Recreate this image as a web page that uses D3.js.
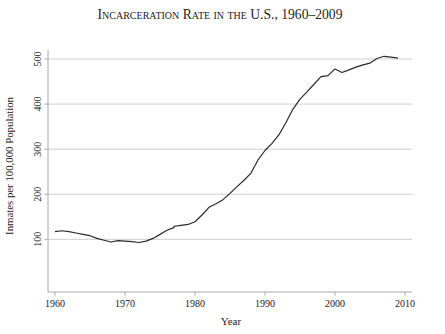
<!DOCTYPE html>
<html><head><meta charset="utf-8">
<script src="https://cdn.jsdelivr.net/npm/d3@7/dist/d3.min.js"></script>
<style>body{margin:0;background:#fff}svg{display:block}text{font-family:"Liberation Serif","DejaVu Serif",serif;fill:#222}</style>
</head><body>
<script>
const years = [1960,1961,1962,1963,1964,1965,1966,1967,1968,1969,1970,1971,1972,1973,1974,1975,1976,1977,1977,1978,1979,1980,1981,1982,1983,1984,1985,1986,1987,1988,1989,1990,1991,1992,1993,1994,1995,1996,1997,1998,1999,2000,2001,2002,2003,2004,2005,2006,2007,2008,2009];
const rates = [117,119,117,114,111,108,102,98,94,97,96,95,93,96,102,111,120,126,129,131,133,139,154,171,179,188,202,217,231,247,276,297,313,332,359,389,411,427,444,461,463,478,470,476,482,487,491,501,506,504,502];
const xTicks = [1960,1970,1980,1990,2000,2010];
const yTicks = [100,200,300,400,500];
const title = "Incarceration Rate in the U.S., 1960–2009";
const xLabel = "Year";
const yLabel = "Inmates per 100,000 Population";

const W=445,H=334;
const svg=d3.select("body").append("svg").attr("width",W).attr("height",H);
const x=d3.scaleLinear().domain([1960,2010]).range([55,405]);
const y=d3.scaleLinear().domain([0,500]).range([284.4,59]);
const gridColor="#cfcfcf", axisColor="#a8a8a8";

svg.append("g").selectAll("line").data(yTicks).join("line")
  .attr("x1",48).attr("x2",412).attr("y1",d=>y(d)).attr("y2",d=>y(d))
  .attr("stroke",gridColor).attr("stroke-width",1);

svg.append("line").attr("x1",48).attr("x2",48).attr("y1",50).attr("y2",292).attr("stroke",axisColor);
svg.append("g").selectAll("line").data(yTicks).join("line")
  .attr("x1",44.5).attr("x2",48).attr("y1",d=>y(d)).attr("y2",d=>y(d)).attr("stroke",axisColor);
svg.append("g").selectAll("text").data(yTicks).join("text")
  .attr("transform",d=>`translate(41,${y(d)}) rotate(-90)`)
  .attr("text-anchor","middle").attr("font-size",10).text(d=>d);

svg.append("line").attr("x1",48).attr("x2",412).attr("y1",292).attr("y2",292).attr("stroke",axisColor);
svg.append("g").selectAll("line").data(xTicks).join("line")
  .attr("x1",d=>x(d)).attr("x2",d=>x(d)).attr("y1",292).attr("y2",295.5).attr("stroke",axisColor);
svg.append("g").selectAll("text").data(xTicks).join("text")
  .attr("x",d=>x(d)).attr("y",307).attr("text-anchor","middle").attr("font-size",10).text(d=>d);

svg.append("text").attr("x",231).attr("y",325).attr("text-anchor","middle").attr("font-size",11).text(xLabel);
svg.append("text").attr("transform","translate(13,166) rotate(-90)").attr("text-anchor","middle").attr("font-size",10.8).text(yLabel);
svg.append("text").attr("x",220).attr("y",18.5).attr("text-anchor","middle").attr("font-size",13.6)
  .style("font-variant","small-caps").attr("fill","#111").text(title);

const data=years.map((yr,i)=>({yr,v:rates[i]}));
svg.append("path").datum(data).attr("fill","none").attr("stroke","#2a2a2a").attr("stroke-width",1.2)
  .attr("stroke-linejoin","round")
  .attr("d",d3.line().x(d=>x(d.yr)).y(d=>y(d.v)));
</script>
</body></html>
